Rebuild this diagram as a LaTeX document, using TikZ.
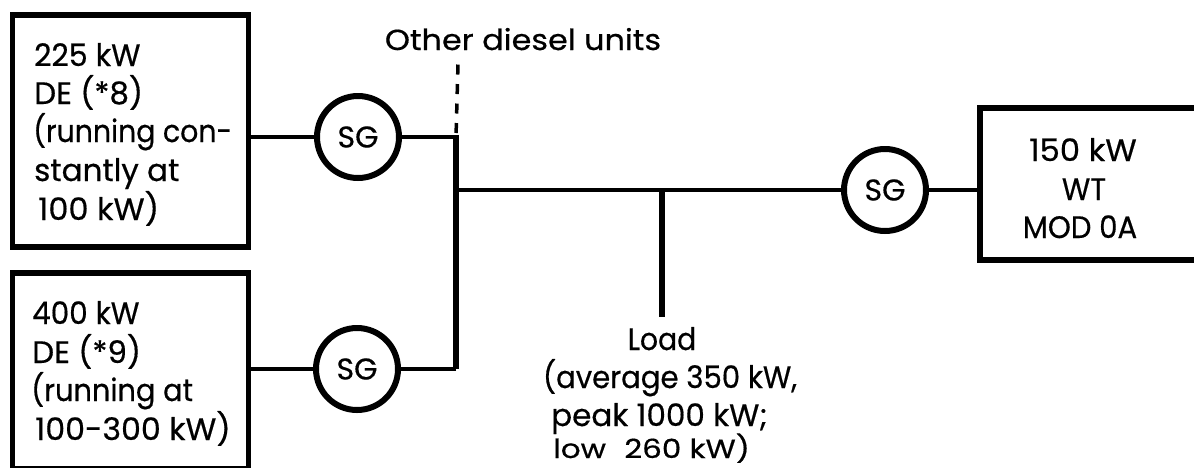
\documentclass[tikz,border=0pt]{standalone}
\usepackage{fontspec}
\setmainfont{Poppins}[FakeBold=0.5]
\tikzset{
  unitbox/.style={draw=black,line width=5.5pt,fill=none,inner sep=0pt},
  gen/.style={draw=black,line width=6pt,circle,minimum size=82pt,inner sep=0pt,font=\fontsize{30}{30}\selectfont},
  wire/.style={draw=black,line width=4.5pt},
  bus/.style={draw=black,line width=6pt},
  lab/.style={anchor=base west,inner sep=0pt,transform shape,font=\fontsize{31}{31}\selectfont},
  labc/.style={anchor=base,inner sep=0pt,transform shape,font=\fontsize{31}{31}\selectfont}
}
\begin{document}
\begin{tikzpicture}[x=1pt,y=-1pt]
\useasboundingbox (0,0) rectangle (1194,467);
\clip (0,0) rectangle (1194,467);
\fill[white] (0,0) rectangle (1194,467);
% boxes
\node[unitbox,minimum width=236pt,minimum height=232pt] (de8) at (130.5,131) {};
\node[unitbox,minimum width=236pt,minimum height=196pt] (de9) at (130.5,371) {};
\node[unitbox,minimum width=230pt,minimum height=152pt] (wt) at (1095,184) {};
% generators
\node[gen] (sg1) at (358,137) {SG};
\node[gen] (sg2) at (357,369) {SG};
\node[gen] (sg3) at (885,190) {SG};
% bus
\coordinate (jt) at (456,137);
\coordinate (jb) at (456,369);
\coordinate (jm) at (456,190);
\coordinate (jl) at (662,190);
\coordinate (le) at (662,317);
\coordinate (oth) at (458,64);
\draw[wire] (de8.east |- sg1) -- (sg1);
\draw[wire] (de9.east |- sg2) -- (sg2);
\draw[wire] (sg1) -- (jt);
\draw[wire] (jb) -- (sg2);
\draw[bus] (456,134.75) -- (jb);
\draw[wire] (454,369) -- (jb);
\draw[wire] (jm) -- (sg3);
\draw[wire] (sg3) -- (wt.west |- sg3);
\draw[bus] (jl) -- (le);
\draw[draw=black,line width=3.5pt,dash pattern=on 10pt off 9.5pt,dash phase=15.5pt] (jt) -- (oth);
% labels
\node[lab,xscale=.97] (t1) at (34,66) {225 kW};
\node[lab] (t2) at (34,104) {DE (*8)};
\node[lab,xscale=.915] (t3) at (33,142) {(running con-};
\node[lab] (t4) at (34,181) {stantly at};
\node[lab,xscale=1.03] (t5) at (38,220) {100 kW)};
\node[lab,xscale=.95] (b1) at (32,324) {400 kW};
\node[lab] (b2) at (32,363) {DE (*9)};
\node[lab,xscale=.93] (b3) at (31,401) {(running at};
\node[lab,xscale=1.02] (b4) at (35,440) {100-300 kW)};
\node[labc,xscale=1.04] (w1) at (1083,161) {150 kW};
\node[labc,xscale=.94] (w2) at (1084,200) {WT};
\node[labc,xscale=.94] (w3) at (1080,238) {MOD 0A};
\node[labc,xscale=1.1,font=\fontsize{29}{29}\selectfont] (oo) at (523,50) {Other diesel units};
\node[labc,xscale=.91] (l1) at (662,350) {Load};
\node[labc,xscale=.94] (l2) at (670,388) {(average 350 kW,};
\node[lab] (l3) at (551,426) {peak 1000 kW;};
\node[lab,yscale=.85] (l4) at (553,458) {low\hspace{10pt} 260 kW)};
\end{tikzpicture}
\end{document}
